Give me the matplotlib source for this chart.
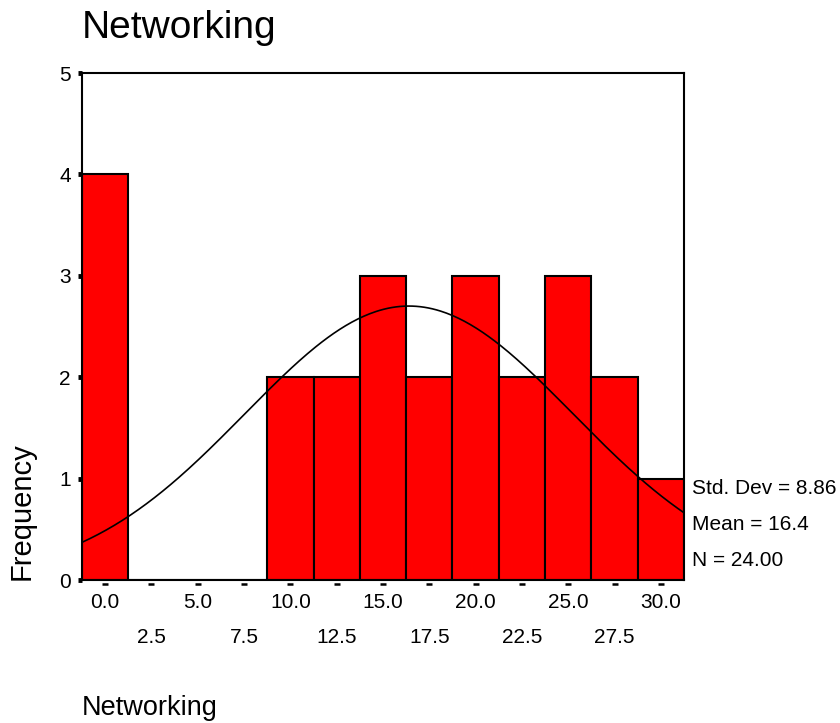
import matplotlib.pyplot as plt
import numpy as np

plt.rcParams['font.family'] = ['Liberation Sans', 'DejaVu Sans']

# histogram of Networking (bin midpoints, width 2.5)
bin_mid = [0.0, 2.5, 5.0, 7.5, 10.0, 12.5, 15.0, 17.5, 20.0, 22.5, 25.0, 27.5, 30.0]
counts = [4, 0, 0, 0, 2, 2, 3, 2, 3, 2, 3, 2, 1]
bin_width = 2.5
mean, sd, n = 16.4, 8.86, 24
tick_labels = ['0.0', '2.5', '5.0', '7.5', '10.0', '12.5', '15.0', '17.5',
               '20.0', '22.5', '25.0', '27.5', '30.0']

fig = plt.figure(figsize=(8.4, 7.23), dpi=100)
ax = fig.add_axes([82/840, 1 - 580/723, (684 - 82)/840, (580 - 73)/723])

ax.bar(bin_mid, counts, width=bin_width, color='#ff0000', edgecolor='black', linewidth=1.5)

# normal curve scaled to the histogram
xs = np.linspace(bin_mid[0] - bin_width/2, bin_mid[-1] + bin_width/2, 300)
ys = n * bin_width / (sd * np.sqrt(2*np.pi)) * np.exp(-0.5*((xs - mean)/sd)**2)
ax.plot(xs, ys, color='black', linewidth=1.2)

ax.set_xlim(bin_mid[0] - bin_width/2, bin_mid[-1] + bin_width/2)
ax.set_ylim(0, 5)
for s in ax.spines.values():
    s.set_linewidth(1.5)

ax.set_yticks([0, 1, 2, 3, 4, 5])
ax.tick_params(axis='y', length=3, width=3.5, labelsize=15, pad=5)
ax.set_xticks([])

# x tick dashes and staggered labels
ax.plot(bin_mid, [-0.035]*len(bin_mid), linestyle='none', marker='_', color='black',
        markersize=5, markeredgewidth=1.8, clip_on=False)
for i, (x, lab) in enumerate(zip(bin_mid, tick_labels)):
    yoff = -0.22 if i % 2 == 0 else -0.57
    ax.text(x, yoff, lab, ha='center', va='center', fontsize=15)

ytr = ax.get_yaxis_transform()
ax.text(1.013, 0.9, f'Std. Dev = {sd:.2f}', transform=ytr, ha='left', va='center', fontsize=15)
ax.text(1.013, 0.55, f'Mean = {mean:.1f}', transform=ytr, ha='left', va='center', fontsize=15)
ax.text(1.013, 0.19, f'N = {n:.2f}', transform=ytr, ha='left', va='center', fontsize=15)

fig.text(82/840, 1 - 28/723, 'Networking', ha='left', va='center', fontsize=28)
fig.text(82/840, 1 - 708/723, 'Networking', ha='left', va='center', fontsize=19.5)
fig.text(22/840, 1 - 580/723, 'Frequency', ha='center', va='bottom', rotation=90, fontsize=21)

fig.savefig('out.png', dpi=100)
